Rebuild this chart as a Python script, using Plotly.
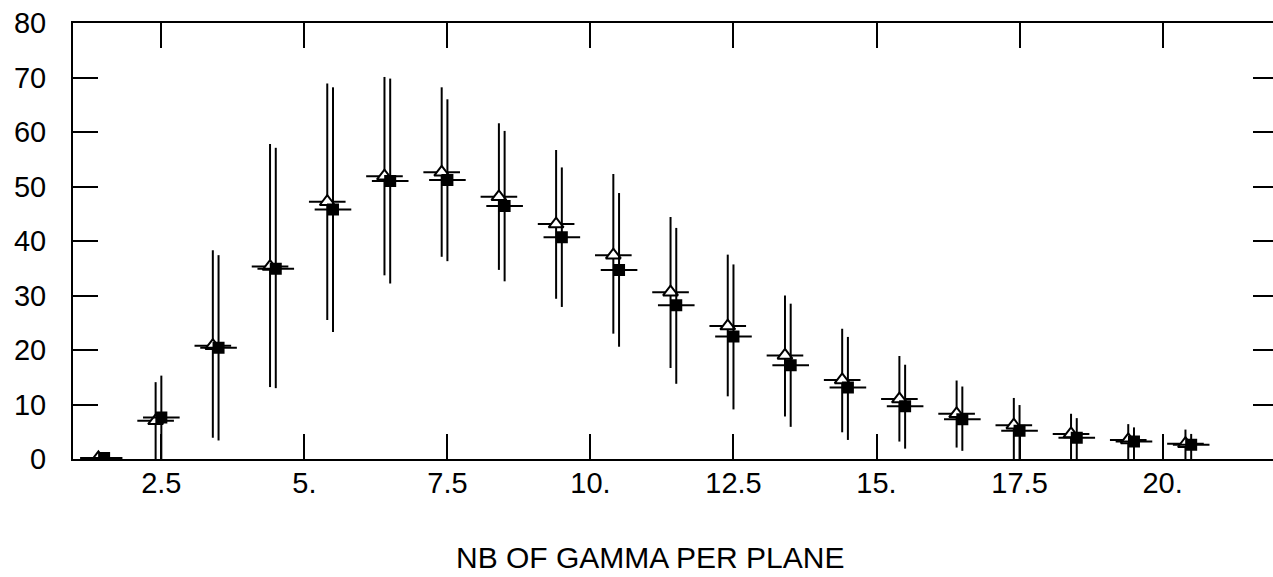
import plotly.graph_objects as go

# x positions (bin centres) for the two series
x_square = [1.5, 2.5, 3.5, 4.5, 5.5, 6.5, 7.5, 8.5, 9.5, 10.5,
            11.5, 12.5, 13.5, 14.5, 15.5, 16.5, 17.5, 18.5, 19.5, 20.5]
x_triangle = [1.4, 2.4, 3.4, 4.4, 5.4, 6.4, 7.4, 8.4, 9.4, 10.4,
              11.4, 12.4, 13.4, 14.4, 15.4, 16.4, 17.4, 18.4, 19.4, 20.4]

# open triangles
tri_val = [0.2, 7.0, 20.8, 35.3, 47.2, 51.9, 52.6, 48.1, 43.1, 37.4,
           30.6, 24.4, 19.0, 14.5, 11.0, 8.3, 6.2, 4.6, 3.5, 2.8]
tri_top = [0.5, 14.1, 38.3, 57.8, 68.9, 70.1, 68.2, 61.6, 56.7, 52.3,
           44.4, 37.5, 30.0, 23.9, 18.9, 14.4, 11.2, 8.3, 6.4, 5.4]
tri_bot = [0.0, 0.0, 3.9, 13.2, 25.5, 33.7, 37.1, 34.7, 29.4, 23.0,
           16.7, 11.5, 7.8, 4.9, 3.2, 2.1, 0.0, 0.0, 0.0, 0.0]

# filled squares
sq_val = [0.2, 7.6, 20.4, 34.9, 45.8, 51.0, 51.2, 46.4, 40.7, 34.7,
          28.2, 22.5, 17.2, 13.1, 9.7, 7.3, 5.2, 3.9, 3.2, 2.6]
sq_top = [0.5, 15.3, 37.4, 57.1, 68.2, 69.8, 66.0, 60.2, 53.5, 48.8,
          42.4, 35.7, 28.5, 22.4, 17.3, 13.3, 9.9, 7.5, 5.8, 4.6]
sq_bot = [0.0, 0.0, 3.4, 13.0, 23.3, 32.2, 36.3, 32.6, 27.9, 20.6,
          13.8, 9.1, 5.9, 3.5, 1.9, 1.5, 0.0, 0.0, 0.0, 0.0]

# horizontal half-widths
x_halfwidth = [0.32] * 20

x_tickvals = [2.5, 5, 7.5, 10, 12.5, 15, 17.5, 20]
x_ticktext = ["2.5", "5.", "7.5", "10.", "12.5", "15.", "17.5", "20."]
y_tickvals = [0, 10, 20, 30, 40, 50, 60, 70, 80]
y_ticktext = ["0", "10", "20", "30", "40", "50", "60", "70", "80"]
x_title = "NB OF GAMMA PER PLANE"

FONT = "Liberation Sans, Arial, sans-serif"

fig = go.Figure()


def add_series(xs, vals, tops, bots, symbol, fill, size):
    fig.add_trace(go.Scatter(
        x=xs, y=vals, mode="markers",
        marker=dict(symbol=symbol, size=size, color=fill,
                    line=dict(color="black", width=2)),
        error_y=dict(type="data", symmetric=False,
                     array=[t - v for t, v in zip(tops, vals)],
                     arrayminus=[v - b for v, b in zip(vals, bots)],
                     thickness=2, width=0, color="black"),
        error_x=dict(type="data", array=x_halfwidth, thickness=2,
                     width=0, color="black"),
        showlegend=False, hoverinfo="skip",
    ))


add_series(x_triangle, tri_val, tri_top, tri_bot, "triangle-up", "white", 13)
add_series(x_square, sq_val, sq_top, sq_bot, "square", "black", 10)

# invisible trace so the right-hand tick axis is drawn
fig.add_trace(go.Scatter(x=[x_square[0]], y=[sq_val[0]], yaxis="y2",
                         mode="markers", marker=dict(opacity=0),
                         showlegend=False, hoverinfo="skip"))

fig.update_layout(
    width=1273, height=577,
    margin=dict(l=73, r=0, t=23, b=118),
    paper_bgcolor="white", plot_bgcolor="white",
    font=dict(family=FONT, color="black", size=29),
    xaxis=dict(range=[0.956, 21.93], tickvals=x_tickvals, ticktext=x_ticktext,
               ticks="inside", ticklen=25, tickwidth=2, tickcolor="black",
               showline=True, linewidth=2, linecolor="black", mirror="ticks",
               showgrid=False, zeroline=False,
               tickfont=dict(size=29), ticklabelstandoff=-3),
    yaxis=dict(range=[0, 80], tickvals=y_tickvals, ticktext=y_ticktext,
               ticks="inside", ticklen=25, tickwidth=2, tickcolor="black",
               showline=True, linewidth=2, linecolor="black",
               showgrid=False, zeroline=False,
               tickfont=dict(size=29), ticklabelstandoff=19),
    yaxis2=dict(range=[0, 80], overlaying="y", side="right",
                tickvals=[10, 20, 30, 40, 50, 60, 70],
                ticks="inside", ticklen=20, tickwidth=2, tickcolor="black",
                showticklabels=False, showline=False, showgrid=False,
                zeroline=False),
    annotations=[dict(text=x_title, xref="paper", yref="paper",
                      x=0.481, y=-0.226, xanchor="center", yanchor="middle",
                      showarrow=False, font=dict(size=30, family=FONT))],
)

fig.write_html("out.html")
